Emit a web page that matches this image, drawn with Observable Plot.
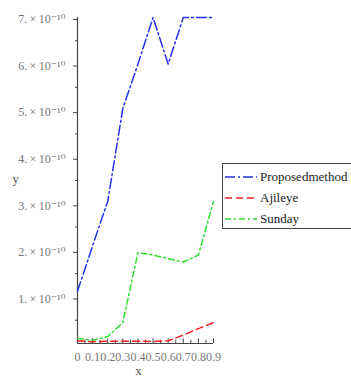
<!DOCTYPE html>
<html>
<head>
<meta charset="utf-8">
<script src="https://cdn.jsdelivr.net/npm/d3@7"></script>
<script src="https://cdn.jsdelivr.net/npm/@observablehq/plot@0.6"></script>
<style>
  body { margin: 0; background: #fff; }
  #wrap { position: relative; width: 351px; height: 381px; overflow: hidden; }
  #wrap svg text { font-family: "Liberation Serif", "Times New Roman", Times, "DejaVu Serif", serif; }
  #legend { position: absolute; left: 222px; top: 163px; width: 140px; height: 64px;
    border: 1px solid #444; background: #fff; font-family: "Liberation Serif", "Times New Roman", Times, "DejaVu Serif", serif; font-size: 13px; color: #222; }
  #legend .row { position: absolute; left: 2px; display: flex; align-items: center; height: 16px; white-space: nowrap; }
  #legend svg { margin-right: 3px; }
</style>
</head>
<body>
<div id="wrap"></div>
<script>
const xs = [0, 0.1, 0.2, 0.3, 0.4, 0.5, 0.6, 0.7, 0.8, 0.9];
const proposed = [1.12, 2.1, 3.05, 5.05, 6.0, 7.0, 6.0, 7.0, 7.0, 7.0];   // ×1e-10
const ajileye  = [0.06, 0.04, 0.05, 0.05, 0.05, 0.04, 0.06, 0.18, 0.32, 0.45];
const sunday   = [0.11, 0.07, 0.15, 0.45, 1.95, 1.9, 1.82, 1.75, 1.9, 3.05];
const seriesNames = ["Proposedmethod", "Ajileye", "Sunday"];
const seriesColors = ["#2433e8", "#ee2020", "#33e033"];
const seriesDash = ["10,3,2,3", "7,4", "6,3,2,3"];
const yTicks = [1, 2, 3, 4, 5, 6, 7];
const xTicks = [0, 0.1, 0.2, 0.3, 0.4, 0.5, 0.6, 0.7, 0.8, 0.9];

const E = 1e-10;
const mk = (arr, name) => xs.map((x, i) => ({x, y: arr[i] * E, s: name}));
const data = [...mk(proposed, seriesNames[0]), ...mk(ajileye, seriesNames[1]), ...mk(sunday, seriesNames[2])];
const minorY = d3.range(0.5, 7, 1).map(v => v * E);
const minorX = d3.range(0.05, 0.9, 0.1);

const sup = "⁻¹⁰";
const chart = Plot.plot({
  width: 351, height: 381,
  marginLeft: 77, marginRight: 138, marginTop: 17, marginBottom: 38,
  style: {fontSize: "12px", color: "#777", background: "#fff"},
  x: {domain: [0, 0.9]},
  y: {domain: [0, 7 * E]},
  marks: [
    Plot.axisY(yTicks.map(v => v * E), {tickSize: 4, tickFormat: d => `${Math.round(d / E)}.\u2009×\u200910${sup}`, fontSize: 12, fill: "#777", stroke: "#444", label: null, tickPadding: 8, dy: 2}),
    Plot.ruleY(minorY, {y: d => d, x1: 0, x2: -0.013, stroke: "#444", strokeWidth: 1}),
    Plot.axisX(xTicks, {tickSize: 0, tickFormat: d => d === 0 ? "0" : String(d), fontSize: 12, fill: "#777", label: null, tickPadding: 9}),
    Plot.ruleX(xTicks, {x: d => d, y1: 0, y2: 0.1 * E, stroke: "#444"}),
    Plot.ruleX(minorX, {x: d => d, y1: 0, y2: 0.07 * E, stroke: "#444"}),
    Plot.ruleX([0], {stroke: "#444", strokeWidth: 1.2}),
    Plot.ruleY([0], {stroke: "#444", strokeWidth: 1.2}),
    ...seriesNames.map((n, i) => Plot.line(data.filter(d => d.s === n), {x: "x", y: "y", stroke: seriesColors[i], strokeWidth: 1.5, strokeDasharray: seriesDash[i]})),
    Plot.text(["y"], {frameAnchor: "left", dx: -65, dy: -2, fontSize: 13, fill: "#555"}),
    Plot.text(["x"], {frameAnchor: "bottom", dx: -7, dy: 31, fontSize: 13, fill: "#555"})
  ]
});
const wrap = document.getElementById("wrap");
wrap.appendChild(chart);

const leg = document.createElement("div");
leg.id = "legend";
seriesNames.forEach((n, i) => {
  const row = document.createElement("div");
  row.className = "row";
  row.style.top = (5 + i * 21) + "px";
  row.innerHTML = `<svg width="32" height="6"><line x1="0" y1="3" x2="32" y2="3" stroke="${seriesColors[i]}" stroke-width="1.6" stroke-dasharray="${seriesDash[i]}"/></svg><span>${n}</span>`;
  leg.appendChild(row);
});
wrap.appendChild(leg);
</script>
</body>
</html>
